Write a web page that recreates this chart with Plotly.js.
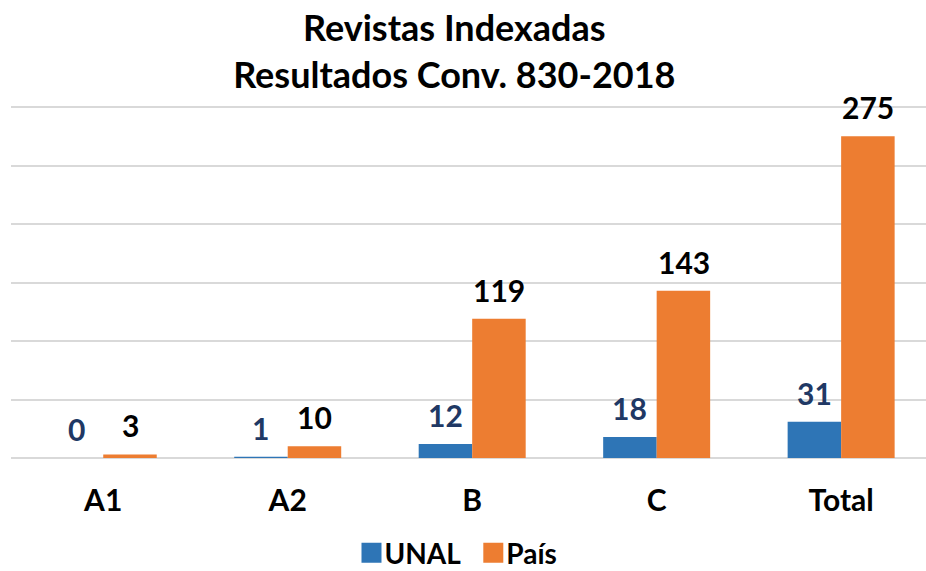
<!DOCTYPE html>
<html>
<head>
<meta charset="utf-8">
<script src="https://cdn.plot.ly/plotly-3.0.1.min.js"></script>
<style>html,body{margin:0;padding:0;background:#fff;}#chart{width:926px;height:571px;}</style>
</head>
<body>
<div id="chart"></div>
<script>
const categories = ["A1", "A2", "B", "C", "Total"];
const unalValues = [0, 1, 12, 18, 31];
const paisValues = [3, 10, 119, 143, 275];
const seriesNames = ["UNAL", "País"];

const FONT = "Lato, 'Open Sans', sans-serif";
const COLORS = ["#2E75B6", "#ED7D31"];
const LABEL_COLORS = ["#203864", "#000000"];

const traces = [
  {type: "bar", name: seriesNames[0], x: categories, y: unalValues, marker: {color: COLORS[0]}},
  {type: "bar", name: seriesNames[1], x: categories, y: paisValues, marker: {color: COLORS[1]}}
];

// value labels above each bar, positioned through the axes from the data arrays
const annotations = [];
[unalValues, paisValues].forEach((vals, s) => {
  vals.forEach((v, i) => {
    annotations.push({
      x: categories[i], y: v, xref: "x", yref: "y",
      text: String(v), showarrow: false,
      xanchor: "center", yanchor: "bottom",
      xshift: s === 0 ? -27 : 27, yshift: 9,
      font: {family: FONT, size: 30, color: LABEL_COLORS[s], weight: 700}
    });
  });
});

const layout = {
  width: 926, height: 571,
  margin: {l: 11, r: 0, t: 106, b: 113, autoexpand: false},
  paper_bgcolor: "#ffffff", plot_bgcolor: "#ffffff",
  font: {family: FONT, color: "#000"},
  title: {
    text: "Revistas Indexadas<br>Resultados Conv. 830-2018",
    font: {family: FONT, size: 36, color: "#000", weight: 700},
    x: 0.4845, xanchor: "center", xref: "paper",
    y: 1 - 41 / 571, yanchor: "middle", yref: "container"
  },
  barmode: "group", bargap: 0.42, bargroupgap: 0,
  xaxis: {
    range: [-0.5, 4.46], showgrid: false, zeroline: false, showline: false,
    tickfont: {family: FONT, size: 30, color: "#000", weight: 700},
    ticks: "", ticklabelstandoff: 22
  },
  yaxis: {
    range: [0, 300.9], dtick: 50, showticklabels: false,
    showgrid: true, gridcolor: "#d9d9d9", gridwidth: 2,
    zeroline: true, zerolinecolor: "#d9d9d9", zerolinewidth: 2, showline: false
  },
  annotations: annotations,
  legend: {
    orientation: "h", x: 0.4836, xanchor: "center", y: 1 - 553 / 571, yref: "container", yanchor: "middle",
    font: {family: FONT, size: 28, color: "#000", weight: 700},
    traceorder: "normal"
  },
  showlegend: true
};

Plotly.newPlot("chart", traces, layout, {displayModeBar: false, staticPlot: true}).then(gd => {
  // larger square swatches sitting right before the legend text, as in the reference
  gd.querySelectorAll(".legendpoints path").forEach(p => {
    p.setAttribute("d", "M17,10H-3V-10H17Z");
  });
});
</script>
</body>
</html>
